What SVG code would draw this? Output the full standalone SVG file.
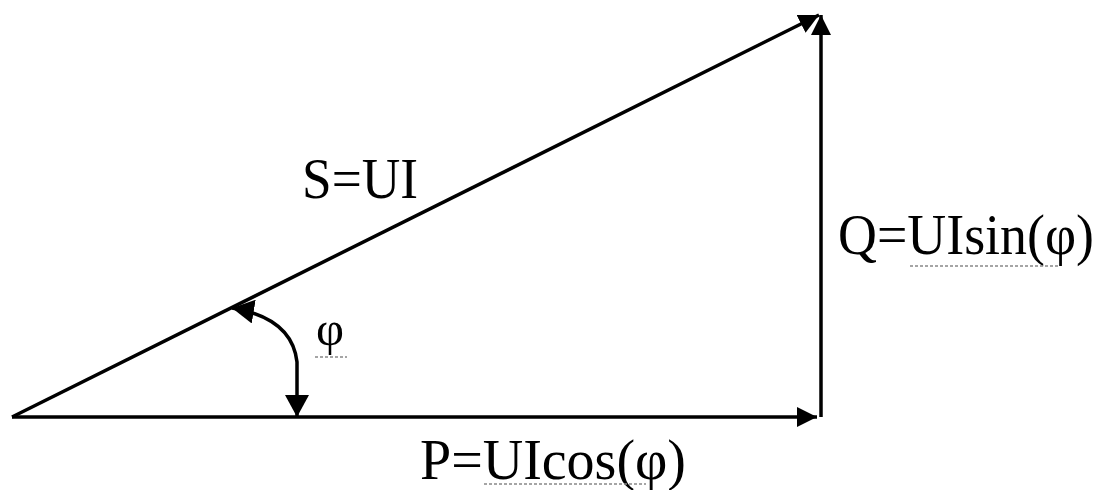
<svg xmlns="http://www.w3.org/2000/svg" width="1105" height="490" viewBox="0 0 1105 490">
  <style>
    .ln { stroke: #000; stroke-width: 3.5; fill: none; }
    .lbl { font-family: "Liberation Serif", "Times New Roman", serif; fill: #000; }
    .wavy { stroke: #888; stroke-width: 1.5; fill: none; stroke-dasharray: 3 2; }
  </style>
  <defs>
    <marker id="ah" markerUnits="userSpaceOnUse" markerWidth="22" markerHeight="20" refX="20" refY="10" orient="auto">
      <path d="M0,0 L20,10 L0,20 Z" fill="#000"/>
    </marker>
    <marker id="ahs" markerUnits="userSpaceOnUse" markerWidth="24" markerHeight="24" refX="22" refY="12" orient="auto-start-reverse">
      <path d="M0,0 L22,12 L0,24 Z" fill="#000"/>
    </marker>
  </defs>
  <rect width="1105" height="490" fill="#fff"/>
  <g id="connectors">
    <line id="P-vector" class="ln" x1="12" y1="417" x2="817" y2="417" marker-end="url(#ah)"/>
    <line id="Q-vector" class="ln" x1="821" y1="417" x2="821" y2="15" marker-end="url(#ah)"/>
    <line id="S-vector" class="ln" x1="12" y1="417" x2="819" y2="15" marker-end="url(#ah)"/>
    <path id="phi-arc" class="ln" d="M232,308 Q292,318 297,362 L297,417" marker-start="url(#ahs)" marker-end="url(#ahs)"/>
  </g>
  <g id="label-S">
    <text class="lbl" x="302" y="198" font-size="58" textLength="116" lengthAdjust="spacingAndGlyphs">S=UI</text>
  </g>
  <g id="label-Q">
    <text class="lbl" x="838" y="254" font-size="56" textLength="256" lengthAdjust="spacingAndGlyphs">Q=UIsin(φ)</text>
    <path class="wavy" d="M910,266 L1058,266"/>
  </g>
  <g id="label-P">
    <text class="lbl" x="420" y="479" font-size="56" textLength="266" lengthAdjust="spacingAndGlyphs">P=UIcos(φ)</text>
    <path class="wavy" d="M484,484 L646,484"/>
  </g>
  <g id="label-phi">
    <text class="lbl" x="316" y="345" font-size="48" textLength="28" lengthAdjust="spacingAndGlyphs">φ</text>
    <path class="wavy" d="M315,357 L347,357"/>
  </g>
</svg>
